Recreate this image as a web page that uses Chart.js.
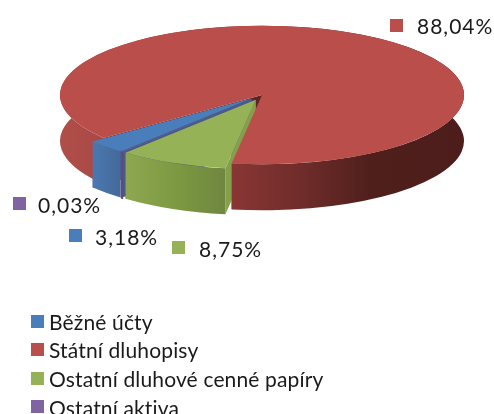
<!DOCTYPE html>
<html>
<head>
<meta charset="utf-8">
<style>
  html, body { margin: 0; padding: 0; background: #fff; overflow: hidden; }
  #pie { position: absolute; left: 0; top: 0; }
</style>
<script src="https://cdn.jsdelivr.net/npm/chart.js@4"></script>
</head>
<body>
<canvas id="pie" width="494" height="414"></canvas>
<script>
// Data

const categories = ['Běžné účty', 'Státní dluhopisy', 'Ostatní dluhové cenné papíry', 'Ostatní aktiva'];
const shares = [3.18, 88.04, 8.75, 0.03];
const exploded = [true, false, true, true];

// Colours

const faceColors = ['#4a7ebb', '#b94e4b', '#95b356', '#8064a2'];
const wallStops = [
  [[0, '#4a78b0'], [1, '#44699b']],
  [[0, '#b04e4a'], [0.1, '#a94845'], [0.43, '#883634'], [0.6, '#6f2c2a'], [0.77, '#4f1f1c'], [1, '#4d1d1b']],
  [[0, '#8da84f'], [0.6, '#7a9640'], [1, '#6f8640']],
  [[0, '#5f4a80'], [1, '#5f4a80']],
];
const cutColors = ['#4a5a8a', '#5f2422', '#84a04b', '#5f4a80'];
const keyColors = faceColors;

// Layout

const squash = 0.343;
const depth = 46;
const explodeBy = 15;
const labelSpots = [
  { key: [69, 229], text: [95, 245] },
  { key: [390, 19], text: [417, 34] },
  { key: [172, 241], text: [199, 257] },
  { key: [13, 197], text: [38, 213] },
];
const legendKeys = [315, 343, 372, 400];
const legendBaselines = [330, 358, 387, 416];

function sliceOffset(arc, index) {
  if (!exploded[index]) return { x: 0, y: 0 };
  const mid = (arc.startAngle + arc.endAngle) / 2;
  return { x: Math.cos(mid) * explodeBy, y: Math.sin(mid) * explodeBy * squash };
}

// horizontal extent of the visible front of a slice, for its wall gradient
function edgeXs(arc) {
  const r = arc.outerRadius;
  if (arc.endAngle - arc.startAngle > Math.PI) return [-r, r];
  return [Math.cos(arc.startAngle) * r, Math.cos(arc.endAngle) * r];
}

function outerWall(ctx, arc, index) {
  const off = sliceOffset(arc, index);
  const x = arc.x + off.x, y = arc.y + off.y;
  const r = arc.outerRadius, ry = r * squash;
  const xs = edgeXs(arc);
  const grad = ctx.createLinearGradient(x + Math.min(...xs), 0, x + Math.max(...xs), 0);
  wallStops[index].forEach(s => grad.addColorStop(s[0], s[1]));
  ctx.beginPath();
  ctx.ellipse(x, y, r, ry, 0, arc.startAngle, arc.endAngle);
  ctx.ellipse(x, y + depth, r, ry, 0, arc.endAngle, arc.startAngle, true);
  ctx.closePath();
  ctx.fillStyle = grad;
  ctx.fill();
  // the smallest slice is thinner than a pixel, keep its wall visible
  if (shares[index] < 0.5) {
    ctx.strokeStyle = cutColors[index];
    ctx.lineWidth = 2;
    ctx.stroke();
  }
}

function cutWall(ctx, arc, index, angle) {
  const off = sliceOffset(arc, index);
  const x = arc.x + off.x, y = arc.y + off.y;
  const ex = x + Math.cos(angle) * arc.outerRadius;
  const ey = y + Math.sin(angle) * arc.outerRadius * squash;
  ctx.beginPath();
  ctx.moveTo(x, y);
  ctx.lineTo(ex, ey);
  ctx.lineTo(ex, ey + depth);
  ctx.lineTo(x, y + depth);
  ctx.closePath();
  ctx.fillStyle = cutColors[index];
  ctx.fill();
}

function topFace(ctx, arc, index) {
  const off = sliceOffset(arc, index);
  ctx.save();
  ctx.translate(off.x, off.y);
  ctx.translate(arc.x, arc.y);
  ctx.scale(1, squash);
  ctx.translate(-arc.x, -arc.y);
  arc.draw(ctx);
  ctx.restore();
}

const tiltedPie = {
  id: 'tiltedPie',
  beforeDatasetDraw(chart, args) {
    const ctx = chart.ctx;
    const [blue, red, green, purple] = args.meta.data;
    // back to front: inner cut faces sit under the big slice's top
    ctx.save();
    cutWall(ctx, red, 1, red.startAngle);
    cutWall(ctx, red, 1, red.endAngle);
    cutWall(ctx, blue, 0, blue.endAngle);
    cutWall(ctx, purple, 0, purple.endAngle);
    cutWall(ctx, green, 0, green.endAngle);
    cutWall(ctx, green, 2, green.startAngle);
    outerWall(ctx, red, 1);
    topFace(ctx, red, 1);
    outerWall(ctx, blue, 0);
    topFace(ctx, blue, 0);
    outerWall(ctx, purple, 3);
    topFace(ctx, purple, 3);
    outerWall(ctx, green, 2);
    topFace(ctx, green, 2);
    ctx.restore();
    return false;
  },
  afterDraw(chart) {
    const ctx = chart.ctx;
    ctx.save();
    ctx.textBaseline = 'alphabetic';
    ctx.font = '21px Lato';
    ctx.letterSpacing = '1px';
    shares.forEach((value, i) => {
      const spot = labelSpots[i];
      ctx.fillStyle = keyColors[i];
      ctx.fillRect(spot.key[0], spot.key[1], 13, 13);
      ctx.fillStyle = '#1a1a1a';
      ctx.fillText(value.toFixed(2).replace('.', ',') + '%', spot.text[0], spot.text[1]);
    });
    ctx.letterSpacing = '0.15px';
    categories.forEach((name, i) => {
      ctx.fillStyle = keyColors[i];
      ctx.fillRect(31, legendKeys[i], 13, 13);
      ctx.fillStyle = '#1a1a1a';
      ctx.fillText(name, 49, legendBaselines[i]);
    });
    ctx.restore();
  }
};

const myPieChart = new Chart(document.getElementById('pie'), {
  type: 'pie',
  data: {
    labels: categories,
    datasets: [{
      data: shares,
      backgroundColor: faceColors,
      borderWidth: 0,
      radius: 202,
      rotation: 220.25,
    }]
  },
  options: {
    responsive: false,
    animation: false,
    layout: { padding: { left: 30, bottom: 224 } },
    plugins: {
      legend: { display: false },
      tooltip: { enabled: false },
    },
  },
  plugins: [tiltedPie],
});
</script>
</body>
</html>
